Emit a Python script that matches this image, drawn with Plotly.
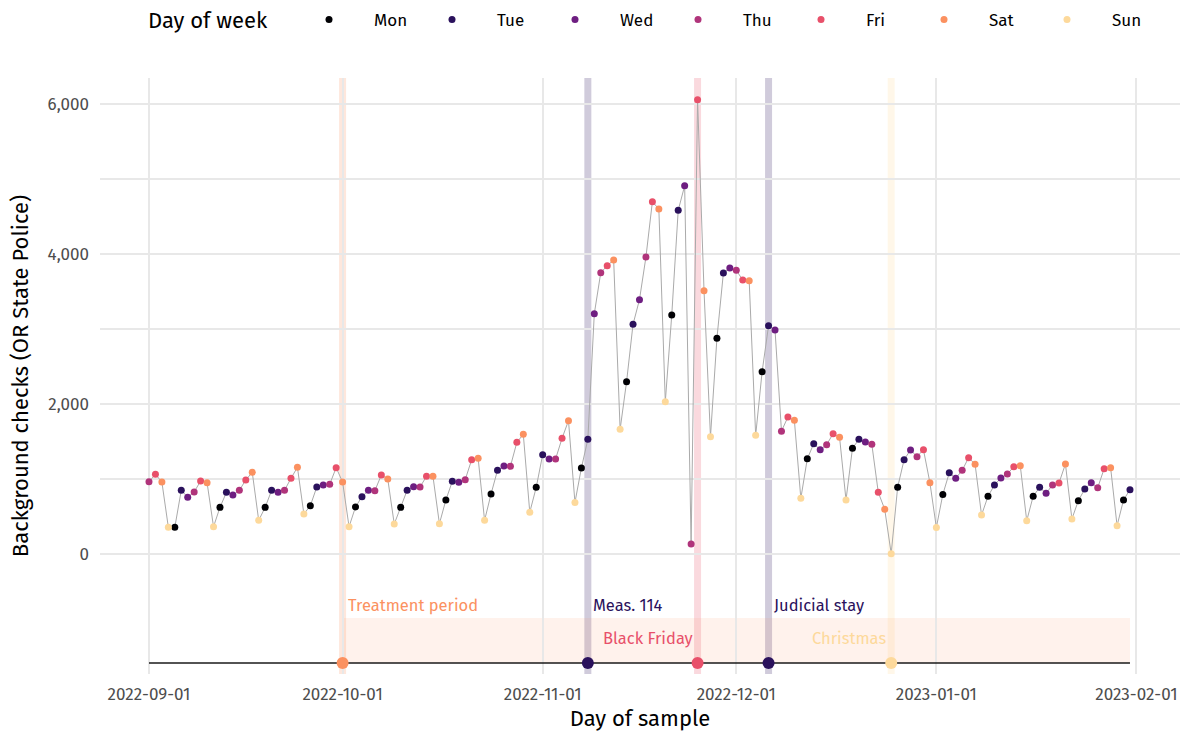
import plotly.graph_objects as go
import pandas as pd

# ---------------- data ----------------
start_date = "2022-09-01"
checks = [
    964, 1063, 960, 356, 356, 849, 756, 827, 973, 951,
    364, 622, 822, 787, 849, 987, 1089, 449, 622, 849,
    822, 849, 1009, 1156, 533, 644, 893, 920, 929, 1151,
    960, 364, 627, 764, 849, 844, 1053, 1000, 400, 622,
    849, 898, 893, 1036, 1036, 404, 720, 969, 956, 991,
    1258, 1276, 449, 800, 1116, 1173, 1169, 1489, 1596, 556,
    889, 1324, 1267, 1267, 1542, 1778, 687, 1147, 1529, 3204,
    3751, 3844, 3920, 1662, 2298, 3062, 3391, 3960, 4698, 4600,
    2031, 3187, 4582, 4911, 133, 6058, 3511, 1564, 2876, 3747,
    3813, 3782, 3653, 3644, 1582, 2431, 3044, 2987, 1638, 1827,
    1782, 742, 1269, 1471, 1391, 1458, 1604, 1556, 720, 1409,
    1529, 1493, 1462, 822, 596, 5, 889, 1258, 1387, 1298,
    1391, 951, 354, 794, 1082, 1009, 1116, 1284, 1196, 520,
    769, 920, 1013, 1067, 1164, 1178, 444, 769, 889, 809,
    920, 947, 1200, 467, 711, 867, 951, 884, 1138, 1151,
    378, 720, 858,
]
day_names = ["Mon", "Tue", "Wed", "Thu", "Fri", "Sat", "Sun"]
day_colors = ["#000004", "#2A115C", "#6E1E81", "#B0347B", "#E8506A", "#FB9160", "#FDD99B"]

event_names = ["Treatment period", "Meas. 114", "Black Friday", "Judicial stay", "Christmas"]
event_dates = ["2022-10-01", "2022-11-08", "2022-11-25", "2022-12-06", "2022-12-25"]
period_end = "2023-01-31"

x_ticks = ["2022-09-01", "2022-10-01", "2022-11-01", "2022-12-01", "2023-01-01", "2023-02-01"]
y_ticks = [0, 2000, 4000, 6000]

# ---------------- derived ----------------
dates = pd.date_range(start_date, periods=len(checks), freq="D")
df = pd.DataFrame({"date": dates, "checks": checks})
df["dow"] = df["date"].dt.dayofweek

ev = pd.DataFrame({"name": event_names, "date": pd.to_datetime(event_dates)})
ev["dow"] = ev["date"].dt.dayofweek
ev["color"] = [day_colors[d] for d in ev["dow"]]


def rgba(hex_color, a):
    h = hex_color.lstrip("#")
    r, g, b = int(h[0:2], 16), int(h[2:4], 16), int(h[4:6], 16)
    return f"rgba({r},{g},{b},{a})"


TIMELINE_Y = -1453
BAND_TOP = -853
LABEL_HI = -680
LABEL_LO = -1133
FONT = "Fira Sans, Roboto, sans-serif"
PW, PH = 1080, 596  # plot area size in px

fig = go.Figure()

# connecting line
fig.add_trace(go.Scatter(
    x=df["date"], y=df["checks"], mode="lines",
    line=dict(color="#AAAAAA", width=1), showlegend=False, hoverinfo="skip"))

# points by day of week
for i, name in enumerate(day_names):
    sub = df[df["dow"] == i]
    fig.add_trace(go.Scatter(
        x=sub["date"], y=sub["checks"], mode="markers", name=name,
        marker=dict(color=day_colors[i], size=7, line=dict(width=0))))

# timeline
fig.add_trace(go.Scatter(
    x=[dates[0], pd.Timestamp(period_end)], y=[TIMELINE_Y, TIMELINE_Y], mode="lines",
    line=dict(color="#1A1A1A", width=1.6), showlegend=False, hoverinfo="skip"))
fig.add_trace(go.Scatter(
    x=ev["date"], y=[TIMELINE_Y] * len(ev), mode="markers",
    marker=dict(color=ev["color"], size=12, line=dict(width=0)),
    showlegend=False, hoverinfo="skip"))

shapes = []
# treatment band
shapes.append(dict(type="rect", xref="x", yref="y", layer="below",
                   x0=ev["date"][0], x1=pd.Timestamp(period_end),
                   y0=TIMELINE_Y, y1=BAND_TOP,
                   fillcolor=rgba(ev["color"][0], 0.12), line=dict(width=0)))
# event verticals
for _, r in ev.iterrows():
    shapes.append(dict(type="line", xref="x", yref="paper", layer="below",
                       x0=r["date"], x1=r["date"], y0=0, y1=1,
                       line=dict(color=rgba(r["color"], 0.22), width=7)))
# reference lines
shapes.append(dict(type="line", xref="paper", yref="y", layer="below",
                   x0=0, x1=1, y0=1000, y1=1000, line=dict(color="#BDBDBD", width=1)))
shapes.append(dict(type="line", xref="paper", yref="y", layer="below",
                   x0=0, x1=1, y0=0, y1=0, line=dict(color="#7F7F7F", width=1.5)))
shapes.append(dict(type="line", xref="x", yref="paper", layer="below",
                   x0="2022-12-01", x1="2022-12-01", y0=0, y1=1,
                   line=dict(color="#C8C8C8", width=1)))

annotations = []
for _, r in ev.iterrows():
    upper = r["name"] in ("Treatment period", "Meas. 114", "Judicial stay")
    annotations.append(dict(
        x=r["date"], y=LABEL_HI if upper else LABEL_LO, xref="x", yref="y",
        text=r["name"], showarrow=False,
        xanchor="left" if upper else "right", xshift=3 if upper else -3,
        font=dict(family=FONT, size=16.5, color=r["color"])))
annotations.append(dict(
    x=(146 - 100) / PW, y=1 + 58 / PH, xref="paper", yref="paper", text="Day of week",
    showarrow=False, xanchor="left", yanchor="middle",
    font=dict(family=FONT, size=22, color="#000000")))

fig.update_layout(
    width=1188, height=735,
    margin=dict(l=100, r=8, t=78, b=61, autoexpand=False),
    paper_bgcolor="white", plot_bgcolor="white",
    font=dict(family=FONT, color="#000000"),
    shapes=shapes, annotations=annotations,
    showlegend=True,
    legend=dict(orientation="h", x=(284 - 100) / PW, xanchor="left",
                y=1 + 58 / PH, yanchor="middle",
                font=dict(family=FONT, size=17, color="#000000"),
                bgcolor="rgba(0,0,0,0)", itemwidth=80,
                entrywidth=28, entrywidthmode="pixels"),
    xaxis=dict(range=["2022-08-24 09:50", "2023-02-07 18:00"],
               tickvals=x_ticks, ticktext=x_ticks, automargin=False,
               ticklabelstandoff=8,
               showgrid=True, gridcolor="#E8E8E8", gridwidth=2,
               zeroline=False, showline=False, ticks="",
               tickfont=dict(family=FONT, size=17, color="#4D4D4D"),
               title=dict(text="Day of sample", standoff=6,
                          font=dict(family=FONT, size=22, color="#000000"))),
    yaxis=dict(range=[-1600, 6347],
               tickvals=y_ticks, tickformat=",d", automargin=False,
               ticklabelstandoff=10,
               showgrid=True, gridcolor="#E8E8E8", gridwidth=2,
               minor=dict(tickvals=[1000, 3000, 5000], showgrid=True,
                          gridcolor="#E8E8E8", gridwidth=1.5),
               zeroline=False, showline=False, ticks="",
               tickfont=dict(family=FONT, size=17, color="#4D4D4D"),
               title=dict(text="Background checks (OR State Police)", standoff=12,
                          font=dict(family=FONT, size=22, color="#000000"))),
)

fig.write_html("out.html", config={"displayModeBar": False},
               post_script="document.body.style.margin='0px';")
